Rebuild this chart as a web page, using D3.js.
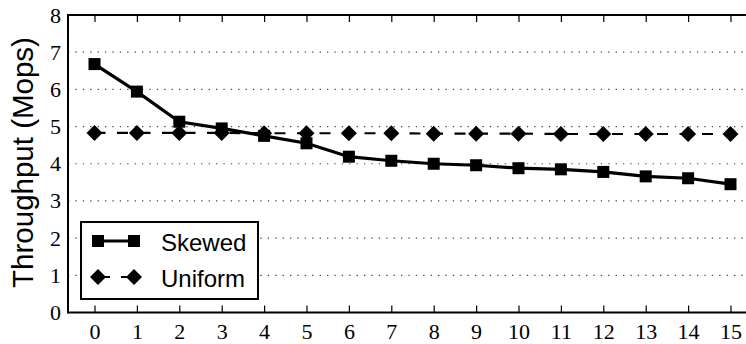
<!DOCTYPE html>
<html><head><meta charset="utf-8">
<script src="https://cdn.jsdelivr.net/npm/d3@7"></script>
<style>body{margin:0;background:#fff}svg{display:block}</style>
</head><body>
<script>
const xValues = [0,1,2,3,4,5,6,7,8,9,10,11,12,13,14,15];
const skewed  = [6.68,5.94,5.13,4.95,4.75,4.55,4.19,4.08,4.00,3.96,3.88,3.85,3.78,3.66,3.61,3.45];
const uniform = [4.83,4.83,4.83,4.83,4.82,4.82,4.82,4.82,4.81,4.81,4.81,4.80,4.80,4.80,4.80,4.80];
const yTicks = [0,1,2,3,4,5,6,7,8];
const gridTicks = [1,2,3,4,5,6,7];
const seriesNames = ["Skewed","Uniform"];

(function(){
const W = 746, H = 344;
const pL = 68, pR = 746, pT = 15, pB = 312.5;
const svg = d3.select("body").append("svg").attr("width", W).attr("height", H);
const x = d3.scaleLinear().domain([0,15]).range([94.5,730.5]);
const y = d3.scaleLinear().domain([0,8]).range([pB, pT]);
const serif = "'Liberation Serif', 'DejaVu Serif', serif";
const sans = "'Liberation Sans', Arial, sans-serif";

// grid
svg.append("g").selectAll("line").data(gridTicks).join("line")
  .attr("x1", pL).attr("x2", pR).attr("y1", d=>y(d)).attr("y2", d=>y(d))
  .attr("stroke","#444").attr("stroke-width",1.2).attr("stroke-dasharray","1.3,6.1");

// bottom axis
const gx = svg.append("g").attr("transform",`translate(0,${pB})`)
  .call(d3.axisBottom(x).tickValues(xValues).tickSize(-7).tickPadding(11).tickFormat(d3.format("d")));
gx.select(".domain").remove();
gx.selectAll("line").attr("stroke","#000").attr("stroke-width",1.2);
gx.selectAll("text").attr("font-family",serif).attr("font-size",22).attr("fill","#000");

// top axis
const gt = svg.append("g").attr("transform",`translate(0,${pT})`)
  .call(d3.axisTop(x).tickValues(xValues).tickSize(-7).tickFormat(""));
gt.select(".domain").remove();
gt.selectAll("line").attr("stroke","#000").attr("stroke-width",1.2);

// left axis
const gy = svg.append("g").attr("transform",`translate(${pL},0)`)
  .call(d3.axisLeft(y).tickValues(yTicks).tickSize(0).tickPadding(7).tickFormat(d3.format("d")));
gy.select(".domain").remove();
gy.selectAll("text").attr("font-family",serif).attr("font-size",22).attr("fill","#000");

// frame lines
svg.append("line").attr("x1",pL).attr("x2",pR).attr("y1",pT).attr("y2",pT).attr("stroke","#000").attr("stroke-width",2);
svg.append("line").attr("x1",pL).attr("x2",pR).attr("y1",pB).attr("y2",pB).attr("stroke","#000").attr("stroke-width",2);
svg.append("line").attr("x1",pL).attr("x2",pL).attr("y1",pT-1).attr("y2",pB+1).attr("stroke","#000").attr("stroke-width",2);

// y label
svg.append("text").attr("transform",`translate(22,162.5) rotate(-90)`)
  .attr("text-anchor","middle").attr("dominant-baseline","central")
  .attr("font-family",sans).attr("font-size",29.5)
  .text("Throughput (Mops)");

const line = d3.line().x((d,i)=>x(xValues[i])).y(d=>y(d));
const diamond = (s)=>`M0,${-s}L${s},0L0,${s}L${-s},0Z`;

// uniform
svg.append("path").datum(uniform).attr("d",line).attr("fill","none").attr("stroke","#000")
  .attr("stroke-width",2.2).attr("stroke-dasharray","11,11.5");
svg.append("g").selectAll("path").data(uniform).join("path")
  .attr("transform",(d,i)=>`translate(${x(xValues[i])},${y(d)})`).attr("d",diamond(8)).attr("fill","#000");

// skewed
svg.append("path").datum(skewed).attr("d",line).attr("fill","none").attr("stroke","#000").attr("stroke-width",3.2);
svg.append("g").selectAll("rect").data(skewed).join("rect")
  .attr("x",(d,i)=>x(xValues[i])-6).attr("y",d=>y(d)-6).attr("width",12).attr("height",12).attr("fill","#000");

// legend
const lg = svg.append("g");
lg.append("rect").attr("x",81).attr("y",222).attr("width",177).attr("height",77)
  .attr("fill","#fff").attr("stroke","#000").attr("stroke-width",2);
const rows = [{name:seriesNames[0], yy:241},{name:seriesNames[1], yy:277}];
lg.append("line").attr("x1",98).attr("x2",134).attr("y1",rows[0].yy).attr("y2",rows[0].yy).attr("stroke","#000").attr("stroke-width",3.2);
lg.append("line").attr("x1",98).attr("x2",134).attr("y1",rows[1].yy).attr("y2",rows[1].yy).attr("stroke","#000").attr("stroke-width",2.2).attr("stroke-dasharray","12,11");
[98,134].forEach(cx=>{
  lg.append("rect").attr("x",cx-6).attr("y",rows[0].yy-6).attr("width",12).attr("height",12).attr("fill","#000");
  lg.append("path").attr("transform",`translate(${cx},${rows[1].yy})`).attr("d",diamond(8)).attr("fill","#000");
});
rows.forEach(r=>{
  lg.append("text").attr("x",161).attr("y",r.yy+1).attr("dominant-baseline","central")
    .attr("font-family",sans).attr("font-size",24).text(r.name);
});
})();
</script>
</body></html>
